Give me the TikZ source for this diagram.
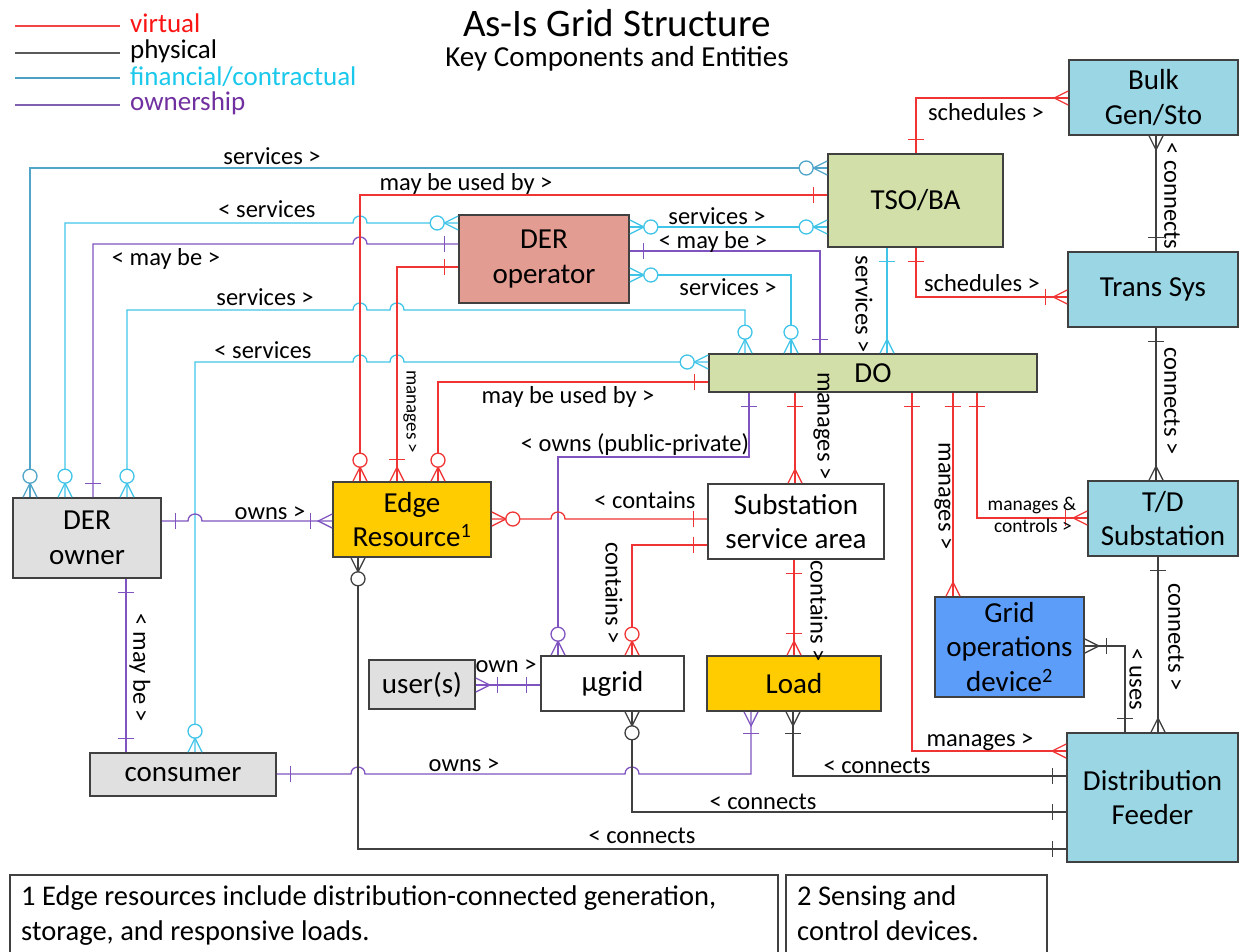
\documentclass[tikz,border=0pt]{standalone}
\usepackage{fontspec}
\setmainfont{Carlito}
\definecolor{vr}{RGB}{240,52,52}
\definecolor{ph}{RGB}{64,64,64}
\definecolor{fi}{RGB}{64,196,232}
\definecolor{fit}{RGB}{80,165,200}
\definecolor{ow}{RGB}{128,84,192}
\definecolor{bluebox}{RGB}{154,214,228}
\definecolor{greenbox}{RGB}{210,223,169}
\definecolor{salmon}{RGB}{226,156,146}
\definecolor{gold}{RGB}{255,204,0}
\definecolor{greybox}{RGB}{224,224,224}
\definecolor{godblue}{RGB}{92,157,250}
\definecolor{border}{RGB}{64,64,64}
\newcommand\hopx[2]{-- (#1-7,#2) .. controls (#1-7,#2-9.3) and (#1+7,#2-9.3) .. (#1+7,#2)}
\tikzset{
  ent/.style={draw=border, line width=1.6pt, inner sep=0pt, align=center, font=\fontsize{29}{34.5}\selectfont},
  lbl/.style={inner sep=0pt, font=\fontsize{24.5}{28}\selectfont, anchor=base},
  slbl/.style={inner sep=0pt, font=\fontsize{19.5}{22}\selectfont, anchor=base},
  vlbl/.style={inner sep=0pt, font=\fontsize{24.5}{28}\selectfont, rotate=-90},
  conn/.style={line width=1.3pt},
  zm/.pic={\draw (0,7)--(14,0)--(0,-7); \draw[fill=white] (21,0) circle[radius=7pt];},
  one/.pic={\draw (14,8)--(14,-8);},
  om/.pic={\draw (0,7)--(14,0)--(0,-7); \draw (22,8)--(22,-8);},
  many/.pic={\draw (0,7)--(14,0)--(0,-7);},
}
\begin{document}
\begin{tikzpicture}[x=1pt,y=-1pt]
\useasboundingbox (0,0) rectangle (1239,952);
% title and legend
\node[inner sep=0pt, anchor=base, font=\fontsize{39}{44}\selectfont] (title) at (617,37) {As-Is Grid Structure};
\node[inner sep=0pt, anchor=base, font=\fontsize{29}{34}\selectfont] (subtitle) at (617,67) {Key Components and Entities};
\coordinate (l1a) at (15,26); \coordinate (l1b) at (120,26);
\coordinate (l2a) at (15,53); \coordinate (l2b) at (120,53);
\coordinate (l3a) at (15,78); \coordinate (l3b) at (120,78);
\coordinate (l4a) at (15,105); \coordinate (l4b) at (120,105);
\draw[line width=1.3pt, color={rgb,255:red,240;green,70;blue,70}] (l1a) -- (l1b);
\draw[line width=1.3pt, color={rgb,255:red,90;green,90;blue,90}] (l2a) -- (l2b);
\draw[line width=1.3pt, color={rgb,255:red,75;green,160;blue,195}] (l3a) -- (l3b);
\draw[line width=1.3pt, color={rgb,255:red,128;green,96;blue,176}] (l4a) -- (l4b);
\node[inner sep=0pt, anchor=base west, font=\fontsize{27}{30}\selectfont, text={rgb,255:red,250;green,20;blue,20}] (lg1) at (130,33) {virtual};
\node[inner sep=0pt, anchor=base west, font=\fontsize{27}{30}\selectfont, text=black] (lg2) at (130,59) {physical};
\node[inner sep=0pt, anchor=base west, font=\fontsize{27}{30}\selectfont, text={rgb,255:red,25;green,200;blue,235}] (lg3) at (130,86) {financial/contractual};
\node[inner sep=0pt, anchor=base west, font=\fontsize{27}{30}\selectfont, text={rgb,255:red,112;green,48;blue,160}] (lg4) at (130,111) {ownership};

% entities
\node[ent, fill=bluebox, minimum width=169pt, minimum height=75pt] (bulk) at (1153.5,97.5) {Bulk\\Gen/Sto};
\node[ent, fill=greenbox, minimum width=175pt, minimum height=93pt] (tso) at (915.5,200.5) {TSO/BA};
\node[ent, fill=bluebox, minimum width=170pt, minimum height=75pt] (trans) at (1153,289.5) {Trans Sys};
\node[ent, fill=salmon, minimum width=170pt, minimum height=88pt] (derop) at (544,259) {DER\\operator};
\node[ent, fill=greenbox, minimum width=328pt, minimum height=38pt] (do) at (873,373) {DO};
\node[ent, fill=greybox, minimum width=148pt, minimum height=80pt] (derown) at (87,538) {DER\\owner};
\node[ent, fill=greybox, minimum width=186pt, minimum height=43pt] (consumer) at (183,774.5) {consumer};
\node[ent, fill=gold, minimum width=158pt, minimum height=75pt] (edge) at (412,519.5) {Edge\\Resource\textsuperscript{1}};
\node[ent, fill=white, minimum width=176pt, minimum height=75pt] (subst) at (796,521.5) {Substation\\service area};
\node[ent, fill=bluebox, minimum width=150pt, minimum height=75pt] (td) at (1163,518.5) {T/D\\Substation};
\node[ent, fill=godblue, minimum width=149pt, minimum height=100pt] (god) at (1009.5,647) {Grid\\operations\\device\textsuperscript{2}};
\node[ent, fill=bluebox, minimum width=171pt, minimum height=129pt] (df) at (1152.5,797.5) {Distribution\\Feeder};
\node[ent, fill=gold, minimum width=174pt, minimum height=55pt] (load) at (794,683.5) {Load};
\node[ent, fill=white, minimum width=143pt, minimum height=55pt] (ugrid) at (612.5,683.5) {µgrid};
\node[ent, fill=greybox, minimum width=106pt, minimum height=49pt] (users) at (422,684.5) {user(s)};

% footnotes
\node[draw=border, line width=1.2pt, minimum width=768pt, minimum height=90pt, inner sep=0pt] (fn1) at (394,920) {};
\node[draw=border, line width=1.2pt, minimum width=261pt, minimum height=90pt, inner sep=0pt] (fn2) at (916.5,920) {};
\node[inner sep=0pt, anchor=base west, align=left, font=\fontsize{28.5}{35}\selectfont] (fn1t) at (21,940) {1 Edge resources include distribution-connected generation,\\storage, and responsive loads.};
\node[inner sep=0pt, anchor=base west, align=left, font=\fontsize{28.5}{35}\selectfont] (fn2t) at (797,940) {2 Sensing and\\control devices.};

% financial connectors
\draw[conn, fit] (derown.north -| 30,0) -- (30,168) -- (tso.west |- 0,168);
\pic[conn, color=fit, rotate=90] at (derown.north -| 30,0) {zm};
\pic[conn, color=fit, rotate=180] at (tso.west |- 0,168) {zm};
\draw[conn, fi] (derown.north -| 65,0) -- (65,223) \hopx{360}{223} -- (derop.west |- 0,223);
\pic[conn, color=fi, rotate=90] at (derown.north -| 65,0) {zm};
\pic[conn, color=fi, rotate=180] at (derop.west |- 0,223) {zm};
\draw[conn, fi] (derown.north -| 127,0) -- (127,310) \hopx{360}{310} \hopx{397}{310} -- (745,310) -- (do.north -| 745,0);
\pic[conn, color=fi, rotate=90] at (derown.north -| 127,0) {zm};
\pic[conn, color=fi, rotate=90] at (do.north -| 745,0) {zm};
\draw[conn, fi] (consumer.north -| 195,0) -- (195,362) \hopx{360}{362} \hopx{397}{362} -- (do.west |- 0,362);
\pic[conn, color=fi, rotate=90] at (consumer.north -| 195,0) {zm};
\pic[conn, color=fi, rotate=180] at (do.west |- 0,362) {zm};
\draw[conn, fi] (derop.east |- 0,227) -- (tso.west |- 0,227);
\pic[conn, color=fi] at (derop.east |- 0,227) {zm};
\pic[conn, color=fi, rotate=180] at (tso.west |- 0,227) {zm};
\draw[conn, fi] (derop.east |- 0,275) -- (791,275) -- (do.north -| 791,0);
\pic[conn, color=fi] at (derop.east |- 0,275) {zm};
\pic[conn, color=fi, rotate=90] at (do.north -| 791,0) {zm};
\draw[conn, fi] (tso.south -| 887,0) -- (do.north -| 887,0);
\pic[conn, color=fi, rotate=-90] at (tso.south -| 887,0) {one};
\pic[conn, color=fi, rotate=90] at (do.north -| 887,0) {many};

% ownership connectors
\draw[conn, ow] (derown.north -| 93,0) -- (93,244) \hopx{360}{244} -- (derop.west |- 0,244);
\pic[conn, color=ow, rotate=90] at (derown.north -| 93,0) {one};
\pic[conn, color=ow, rotate=180] at (derop.west |- 0,244) {one};
\draw[conn, ow] (derop.east |- 0,251) -- (820,251) -- (do.north -| 820,0);
\pic[conn, color=ow] at (derop.east |- 0,251) {one};
\pic[conn, color=ow, rotate=90] at (do.north -| 820,0) {one};
\draw[conn, ow] (do.south -| 749,0) -- (749,457) -- (558,457) -- (ugrid.north -| 558,0);
\pic[conn, color=ow, rotate=-90] at (do.south -| 749,0) {one};
\pic[conn, color=ow, rotate=90] at (ugrid.north -| 558,0) {zm};
\draw[conn, ow] (users.east |- 0,685) -- (ugrid.west |- 0,685);
\pic[conn, color=ow] at (users.east |- 0,685) {om};
\pic[conn, color=ow, rotate=180] at (ugrid.west |- 0,685) {one};
\draw[conn, ow] (consumer.east |- 0,774) \hopx{358}{774} \hopx{632}{774} -- (751,774) -- (load.south -| 751,0);
\pic[conn, color=ow] at (consumer.east |- 0,774) {one};
\pic[conn, color=ow, rotate=-90] at (load.south -| 751,0) {om};
\draw[conn, ow] (derown.south -| 126,0) -- (consumer.north -| 126,0);
\pic[conn, color=ow, rotate=-90] at (derown.south -| 126,0) {one};
\pic[conn, color=ow, rotate=90] at (consumer.north -| 126,0) {one};
\draw[conn, ow] (derown.east |- 0,521) \hopx{195}{521} -- (edge.west |- 0,521);
\pic[conn, color=ow] at (derown.east |- 0,521) {one};
\pic[conn, color=ow, rotate=180] at (edge.west |- 0,521) {om};

% virtual connectors
\draw[conn, vr] (edge.north -| 360,0) -- (360,195) -- (tso.west |- 0,195);
\pic[conn, color=vr, rotate=90] at (edge.north -| 360,0) {zm};
\pic[conn, color=vr, rotate=180] at (tso.west |- 0,195) {one};
\draw[conn, vr] (derop.west |- 0,267) -- (397,267) -- (edge.north -| 397,0);
\pic[conn, color=vr, rotate=180] at (derop.west |- 0,267) {one};
\pic[conn, color=vr, rotate=90] at (edge.north -| 397,0) {om};
\draw[conn, vr] (do.west |- 0,382) -- (438,382) -- (edge.north -| 438,0);
\pic[conn, color=vr, rotate=180] at (do.west |- 0,382) {one};
\pic[conn, color=vr, rotate=90] at (edge.north -| 438,0) {zm};
\draw[conn, vr] (tso.north -| 916,0) -- (916,98) -- (bulk.west |- 0,98);
\pic[conn, color=vr, rotate=90] at (tso.north -| 916,0) {one};
\pic[conn, color=vr, rotate=180] at (bulk.west |- 0,98) {many};
\draw[conn, vr] (tso.south -| 916,0) -- (916,297) -- (trans.west |- 0,297);
\pic[conn, color=vr, rotate=-90] at (tso.south -| 916,0) {one};
\pic[conn, color=vr, rotate=180] at (trans.west |- 0,297) {om};
\draw[conn, vr] (do.south -| 912,0) -- (912,751) -- (df.west |- 0,751);
\pic[conn, color=vr, rotate=-90] at (do.south -| 912,0) {one};
\pic[conn, color=vr, rotate=180] at (df.west |- 0,751) {many};
\draw[conn, vr] (do.south -| 953,0) -- (god.north -| 953,0);
\pic[conn, color=vr, rotate=-90] at (do.south -| 953,0) {one};
\pic[conn, color=vr, rotate=90] at (god.north -| 953,0) {many};
\draw[conn, vr] (do.south -| 977,0) -- (977,518) -- (td.west |- 0,518);
\pic[conn, color=vr, rotate=-90] at (do.south -| 977,0) {one};
\pic[conn, color=vr, rotate=180] at (td.west |- 0,518) {om};
\draw[conn, vr] (do.south -| 795,0) -- (subst.north -| 795,0);
\pic[conn, color=vr, rotate=-90] at (do.south -| 795,0) {one};
\pic[conn, color=vr, rotate=90] at (subst.north -| 795,0) {many};
\draw[conn, vr] (edge.east |- 0,519) \hopx{558}{519} -- (subst.west |- 0,519);
\pic[conn, color=vr] at (edge.east |- 0,519) {zm};
\pic[conn, color=vr, rotate=180] at (subst.west |- 0,519) {one};
\draw[conn, vr] (subst.west |- 0,545) -- (632,545) -- (ugrid.north -| 632,0);
\pic[conn, color=vr, rotate=180] at (subst.west |- 0,545) {one};
\pic[conn, color=vr, rotate=90] at (ugrid.north -| 632,0) {zm};
\draw[conn, vr] (subst.south -| 794,0) -- (load.north -| 794,0);
\pic[conn, color=vr, rotate=-90] at (subst.south -| 794,0) {one};
\pic[conn, color=vr, rotate=90] at (load.north -| 794,0) {om};

% physical connectors
\draw[conn, ph] (bulk.south -| 1156,0) -- (trans.north -| 1156,0);
\pic[conn, color=ph, rotate=-90] at (bulk.south -| 1156,0) {many};
\pic[conn, color=ph, rotate=90] at (trans.north -| 1156,0) {one};
\draw[conn, ph] (trans.south -| 1156,0) -- (td.north -| 1156,0);
\pic[conn, color=ph, rotate=-90] at (trans.south -| 1156,0) {one};
\pic[conn, color=ph, rotate=90] at (td.north -| 1156,0) {many};
\draw[conn, ph] (td.south -| 1158,0) -- (df.north -| 1158,0);
\pic[conn, color=ph, rotate=-90] at (td.south -| 1158,0) {one};
\pic[conn, color=ph, rotate=90] at (df.north -| 1158,0) {many};
\draw[conn, ph] (god.east |- 0,646) -- (1125,646) -- (df.north -| 1125,0);
\pic[conn, color=ph] at (god.east |- 0,646) {om};
\pic[conn, color=ph, rotate=90] at (df.north -| 1125,0) {one};
\draw[conn, ph] (load.south -| 793,0) -- (793,776) -- (df.west |- 0,776);
\pic[conn, color=ph, rotate=-90] at (load.south -| 793,0) {om};
\pic[conn, color=ph, rotate=180] at (df.west |- 0,776) {one};
\draw[conn, ph] (ugrid.south -| 632,0) -- (632,812) -- (df.west |- 0,812);
\pic[conn, color=ph, rotate=-90] at (ugrid.south -| 632,0) {zm};
\pic[conn, color=ph, rotate=180] at (df.west |- 0,812) {one};
\draw[conn, ph] (edge.south -| 358,0) -- (358,849) -- (df.west |- 0,849);
\pic[conn, color=ph, rotate=-90] at (edge.south -| 358,0) {zm};
\pic[conn, color=ph, rotate=180] at (df.west |- 0,849) {one};

% labels
\node[lbl] (t1) at (272,165) {services >};
\node[lbl] (t2) at (466,191) {may be used by >};
\node[lbl] (t3) at (267,218) {< services};
\node[lbl] (t4) at (166,265) {< may be >};
\node[lbl] (t5) at (265,305) {services >};
\node[lbl] (t6) at (263,358) {< services};
\node[lbl] (t7) at (568,403) {may be used by >};
\node[lbl] (t8) at (717,224) {services >};
\node[lbl] (t9) at (713,248) {< may be >};
\node[lbl] (t10) at (728,295) {services >};
\node[lbl] (t11) at (986,121) {schedules >};
\node[lbl] (t12) at (982,291) {schedules >};
\node[lbl] (t13) at (635,451) {< owns (public-private)};
\node[lbl] (t14) at (645,508) {< contains};
\node[lbl] (t15) at (270,519) {owns >};
\node[lbl] (t16) at (506,672) {own >};
\node[lbl] (t17) at (464,771) {owns >};
\node[lbl] (t18) at (877,773) {< connects};
\node[lbl] (t19) at (763,809) {< connects};
\node[lbl] (t20) at (642,843) {< connects};
\node[lbl] (t21) at (980,746) {manages >};
\node[slbl] (t22) at (1032,510) {manages \&};
\node[slbl] (t23) at (1033,532) {controls >};
\node[vlbl, font=\fontsize{19}{22}\selectfont] (v1) at (410,412) {manages >};
\node[vlbl] (v2) at (864,304) {services >};
\node[vlbl] (v3) at (1172,196) {< connects};
\node[vlbl] (v4) at (1172,401) {connects >};
\node[vlbl] (v5) at (822,426) {manages >};
\node[vlbl] (v6) at (943,496) {manages >};
\node[vlbl] (v7) at (819,611) {contains >};
\node[vlbl] (v8) at (614,593) {contains >};
\node[vlbl] (v9) at (1176,637) {connects >};
\node[vlbl] (v10) at (1136,679) {< uses};
\node[vlbl] (v11) at (140,668) {< may be >};
\end{tikzpicture}
\end{document}
